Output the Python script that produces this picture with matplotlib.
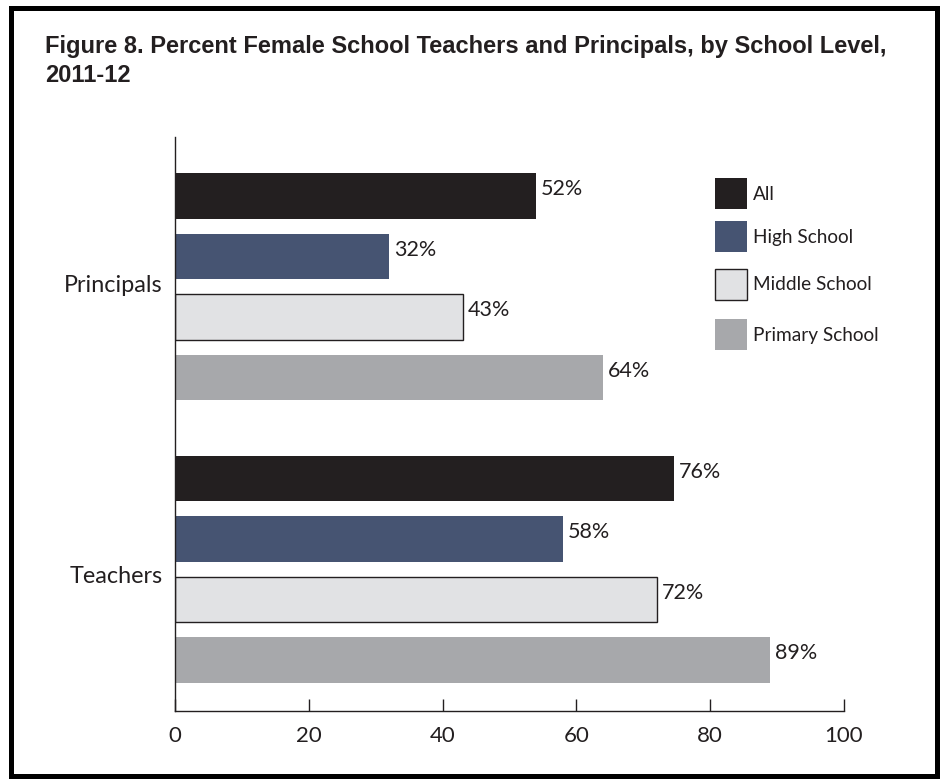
import matplotlib
matplotlib.use("Agg")
import matplotlib.pyplot as plt
from matplotlib.patches import Rectangle

# ---- data ----
groups = ["Principals", "Teachers"]
series = ["All", "High School", "Middle School", "Primary School"]
principals_vals = [54, 32, 43, 64]
teachers_vals = [74.6, 58, 72, 89]
principals_labels = ["52%", "32%", "43%", "64%"]
teachers_labels = ["76%", "58%", "72%", "89%"]
xticks = [0, 20, 40, 60, 80, 100]
title_lines = ["Figure 8. Percent Female School Teachers and Principals, by School Level,",
               "2011-12"]

colors = ["#231f20", "#465472", "#e1e2e4", "#a7a8ab"]
edges = [None, None, "#231f20", None]

W, H = 947, 783
fig = plt.figure(figsize=(W / 100, H / 100), dpi=100)

L, R, T, B = 175, 844, 137, 711
ax = fig.add_axes([L / W, 1 - B / H, (R - L) / W, (B - T) / H])

step = 1.0
group_gap = 4.67
bar_h = 0.75
font = ["Lato", "DejaVu Sans"]

all_vals = [principals_vals, teachers_vals]
all_labels = [principals_labels, teachers_labels]
for gi, (vals, labs) in enumerate(zip(all_vals, all_labels)):
    base = gi * group_gap
    for si, (v, lab) in enumerate(zip(vals, labs)):
        y = base + si * step
        ec = edges[si] if edges[si] else colors[si]
        lw = 1.0 if edges[si] else 0
        ax.barh(y, v, height=bar_h, color=colors[si], edgecolor=ec, linewidth=lw)
        ax.annotate(lab, (v, y), xytext=(5, 7), textcoords="offset pixels",
                    ha="left", va="center", fontsize=15.5, family=font, color="#231f20")

ax.set_xlim(0, 100)
ax.set_ylim((B - 196) / 60.5, (T - 196) / 60.5)
ax.set_yticks([1.45, 6.26])
ax.set_yticklabels(groups, family=font, fontsize=16.8, color="#231f20")
ax.tick_params(axis="y", length=0, pad=9)
ax.set_xticks(xticks)
ax.set_xticklabels([str(t) for t in xticks], family=font, fontsize=16, color="#231f20")
ax.tick_params(axis="x", direction="in", length=9, width=1, color="#231f20", pad=11)
for s in ["top", "right"]:
    ax.spines[s].set_visible(False)
for s in ["left", "bottom"]:
    ax.spines[s].set_color("#231f20")
    ax.spines[s].set_linewidth(1)

# legend
leg_y = [178, 221, 269, 319]
for si, name in enumerate(series):
    y0 = leg_y[si]
    ec = "#231f20" if edges[si] else colors[si]
    lw = 1.0 if edges[si] else 0
    fig.patches.append(Rectangle((715 / W, 1 - (y0 + 31) / H), 32 / W, 31 / H,
                                 transform=fig.transFigure, facecolor=colors[si],
                                 edgecolor=ec, linewidth=lw))
    fig.text(753 / W, 1 - (y0 + 16) / H, name, ha="left", va="center",
             fontsize=13.7, family=font, color="#231f20")

# title (two lines, baselines placed separately)
for line, base_y in zip(title_lines, [53, 82]):
    fig.text(45 / W, 1 - base_y / H, line, ha="left", va="baseline",
             fontsize=17, fontweight="bold",
             family=["Liberation Sans", "DejaVu Sans"], color="#231f20")

# frame
fig.patches.append(Rectangle((10.5 / W, 7.5 / H), (W - 21) / W, (H - 15) / H,
                             transform=fig.transFigure, fill=False,
                             edgecolor="black", linewidth=3.6))

fig.savefig("out.png", dpi=100)
